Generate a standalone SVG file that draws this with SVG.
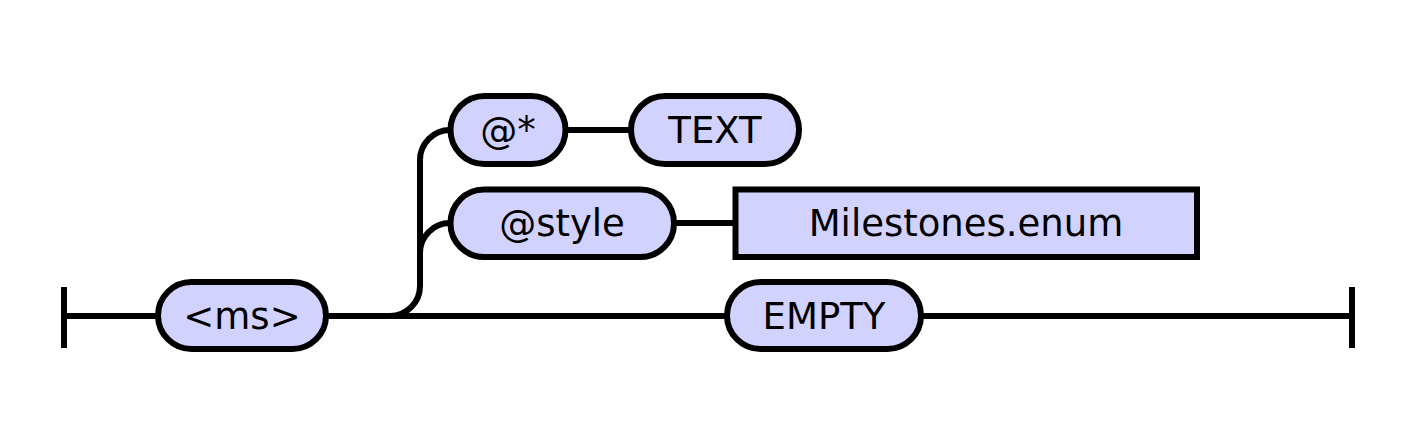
<svg xmlns="http://www.w3.org/2000/svg" width="1414" height="444" viewBox="0 0 1414 444">
<style>
.node{fill:#d2d2ff;stroke:#000;stroke-width:6}
.lbl{font-family:"DejaVu Sans",sans-serif;font-size:37px;fill:#000;text-anchor:middle}
.wire{fill:none;stroke:#000;stroke-width:6}
</style>
<rect width="1414" height="444" fill="#fff"/>
<g id="connectors" class="wire">
<path d="M64 287V348"/>
<path d="M1352 287V348"/>
<path d="M64 316H158"/>
<path d="M326 316H727"/>
<path d="M921 316H1352"/>
<path d="M390 316A30 30 0 0 0 420 286V160A30 30 0 0 1 450 130"/>
<path d="M420 253A30 30 0 0 1 450 223"/>
<path d="M566 130H631"/>
<path d="M674 223H736"/>
</g>
<g id="ms"><rect class="node" x="158" y="282" width="168" height="67" rx="33.5"/><text class="lbl" x="242" y="329">&lt;ms&gt;</text></g>
<g id="attr-any"><rect class="node" x="450.5" y="96" width="115" height="68" rx="34"/><text class="lbl" x="508" y="143">@*</text></g>
<g id="text"><rect class="node" x="631" y="96" width="168" height="68" rx="34"/><text class="lbl" x="715" y="143">TEXT</text></g>
<g id="style"><rect class="node" x="450.5" y="189.5" width="223.5" height="67.5" rx="33.5"/><text class="lbl" x="562" y="236">@style</text></g>
<g id="enum"><rect class="node" x="735.5" y="189.5" width="461.5" height="67.5"/><text class="lbl" x="966" y="236">Milestones.enum</text></g>
<g id="empty"><rect class="node" x="727" y="282" width="194" height="67" rx="33.5"/><text class="lbl" x="824" y="329">EMPTY</text></g>
</svg>
